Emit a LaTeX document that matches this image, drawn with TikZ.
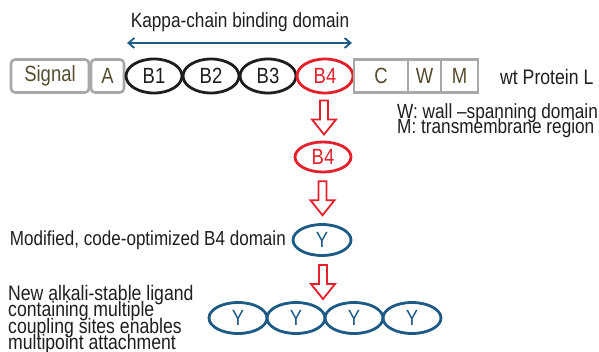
\documentclass[tikz,border=0pt]{standalone}
\usepackage{fontspec}
\setmainfont[FakeStretch=0.84]{Liberation Sans}
\usetikzlibrary{arrows.meta,calc,shapes.geometric}
\definecolor{domred}{HTML}{E3202C}
\definecolor{domblue}{HTML}{1D5A86}
\definecolor{boxgray}{HTML}{A8A8A8}
\definecolor{boxtext}{HTML}{554B2E}
\definecolor{ink}{HTML}{1E1E1E}
% font size with a fixed, tight line pitch
\newcommand{\fs}[2]{\fontsize{#1}{#2}\selectfont\lineskiplimit=-100pt\relax}
\tikzset{
  segbox/.style={draw=boxgray, line width=2.6pt, rounded corners=4pt, minimum height=33pt,
    text=boxtext, font=\fs{22}{22}, inner sep=0pt},
  sqbox/.style={draw=boxgray, line width=2.6pt, minimum height=33pt,
    text=boxtext, font=\fs{22}{22}, inner sep=0pt},
  blackdom/.style={ellipse, draw=ink, line width=2.8pt, minimum width=56pt, minimum height=34pt,
    text=ink, font=\fs{22}{22}, inner sep=0pt},
  reddom/.style={ellipse, draw=domred, line width=2.8pt, minimum width=56pt, minimum height=34pt,
    text=domred, font=\fs{22}{22}, inner sep=0pt},
  bluedom/.style={ellipse, draw=domblue, line width=2.8pt, minimum width=58pt, minimum height=31pt,
    text=domblue, font=\fs{22}{22}, inner sep=0pt},
  label/.style={text=ink, font=\fs{21}{21}, inner sep=0pt},
  pics/hollowdown/.style={code={
    \draw[domred, line width=1.8pt, line join=miter]
      (-4,-17) -- (4,-17) -- (4,2) -- (12,2) -- (0,17) -- (-12,2) -- (-4,2) -- cycle;
  }},
}
\begin{document}
\begin{tikzpicture}[x=1pt,y=-1pt]
\useasboundingbox (0,0) rectangle (599,351);

% wild-type protein L domain row
\node[segbox, minimum width=78pt] (signal) at (50,76) {Signal};
\node[segbox, minimum width=33pt] (a) at (107.5,76) {A};
\node[blackdom] (b1) at (154,76) {B1};
\node[blackdom] (b2) at (211,76) {B2};
\node[blackdom] (b3) at (268,76) {B3};
\node[reddom] (b4) at (325,76) {B4};
\node[sqbox, minimum width=54pt] (c) at (381,76) {C};
\node[sqbox, minimum width=33pt] (w) at (424.5,76) {W};
\node[sqbox, minimum width=37pt] (m) at (459.5,76) {M};
\node[label, anchor=west] (wt) at (500,77) {wt Protein L};

% kappa-chain binding span
\coordinate (kl) at (127,43);
\coordinate (kr) at (352,43);
\draw[domblue, line width=1.8pt, {Straight Barb[length=6pt,width=10pt]}-{Straight Barb[length=6pt,width=10pt]}] (kl) -- (kr);
\node[label, font=\fs{20.5}{20.5}] (kappa) at (240,22) {Kappa-chain binding domain};

% legend
\node[label, anchor=north west, align=left, font=\fs{20.5}{15.2}] (legend) at (397,103)
  {W: wall --spanning domain\\M: transmembrane region};

% isolated B4, modified Y, multimer
\node[reddom, minimum width=56pt, minimum height=30pt] (b4s) at (323,157) {B4};
\node[bluedom] (y0) at (322,240) {Y};
\node[label, anchor=east, font=\fs{20.3}{20.3}] (modl) at (286,240) {Modified, code-optimized B4 domain};

\node[bluedom] (y1) at (238,318) {Y};
\node[bluedom] (y2) at (296,318) {Y};
\node[bluedom] (y3) at (354,318) {Y};
\node[bluedom] (y4) at (412,318) {Y};
\node[label, anchor=north west, align=left, font=\fs{21}{16.3}] (newl) at (8,285)
  {New alkali-stable ligand\\containing multiple\\coupling sites enables\\multipoint attachment};

% process arrows
\pic at ($(b4.south)!0.5!(b4s.north)$) {hollowdown};
\pic at ($(b4s.south)!0.5!(y0.north)$) {hollowdown};
\pic at (323,282) {hollowdown};
\end{tikzpicture}
\end{document}
